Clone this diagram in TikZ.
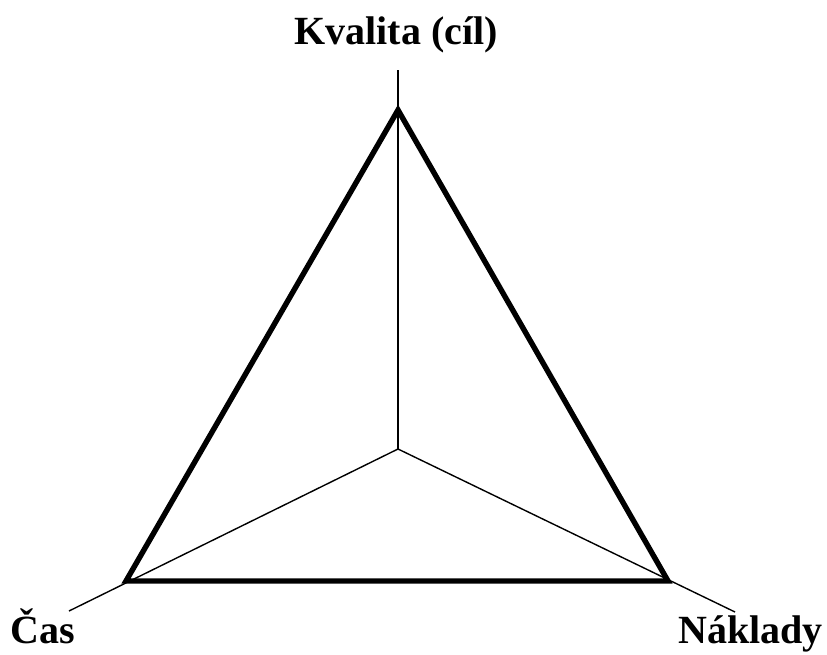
\documentclass[tikz,border=0pt]{standalone}
\usepackage{fontspec}
\setmainfont{Liberation Serif}
\usetikzlibrary{positioning}

\begin{document}
\begin{tikzpicture}[
    x=1pt, y=-1pt,
    axis/.style={draw=black, line width=1.4pt},
    frame/.style={draw=black, line width=5.4pt, line join=miter},
    corner/.style={font=\fontsize{40}{48}\selectfont\bfseries, inner sep=0pt, anchor=base}
]
\useasboundingbox (0,0) rectangle (827,655);
% ============== Vrcholy ==============
\coordinate (mid)  at (398,449);
\coordinate (top)  at (398,110);
\coordinate (left) at (126,581);
\coordinate (right) at (668,581);
\coordinate (topend)   at (398,70);
\coordinate (leftend)  at (69,611);
\coordinate (rightend) at (735,612);

% ============== Osy ==============
\draw[axis] (mid) -- (topend);
\draw[axis] (mid) -- (leftend);
\draw[axis] (mid) -- (rightend);

% ============== Trojúhelník ==============
\draw[frame] (top) -- (right) -- (left) -- cycle;

% ============== Popisky ==============
\node[corner] (kvalita) at (396,45) {Kvalita (cíl)};
\node[corner, anchor=base west] (cas) at (10,643) {Čas};
\node[corner, anchor=base east] (naklady) at (823,643) {Náklady};
\end{tikzpicture}
\end{document}
